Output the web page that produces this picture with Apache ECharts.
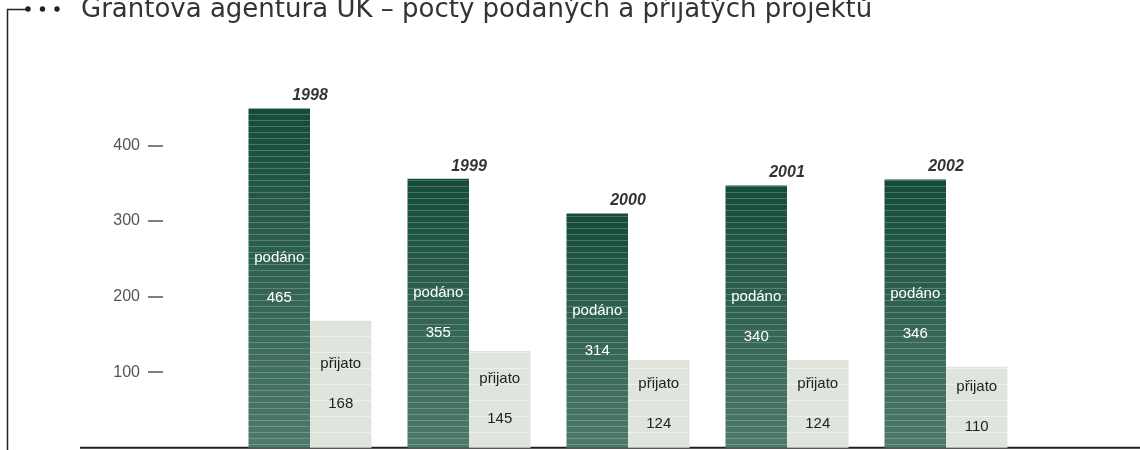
<!DOCTYPE html>
<html>
<head>
<meta charset="utf-8">
<script src="https://cdn.jsdelivr.net/npm/echarts@6/dist/echarts.min.js"></script>
<style>html,body{margin:0;padding:0;background:#fff}#c{width:1140px;height:450px}</style>
</head>
<body>
<div id="c"></div>
<script>
// Data
const titleText = 'Grantová agentura UK – počty podaných a přijatých projektů';
const years = ['1998', '1999', '2000', '2001', '2002'];
// bar heights as drawn in the picture
const podano = [449, 356, 310, 347, 355];
const prijato = [168, 128, 116, 116, 107];
// numbers printed inside the bars
const podanoLabels = ['465', '355', '314', '340', '346'];
const prijatoLabels = ['168', '145', '124', '124', '110'];
const yTicks = [100, 200, 300, 400];

const chart = echarts.init(document.getElementById('c'), null, {renderer: 'canvas'});
chart.setOption({
  animation: false,
  aria: {enabled: true, decal: {show: true}},
  grid: {left: 230.5, right: 114.5, top: 70, bottom: 2.3},
  xAxis: {
    type: 'category', data: years,
    axisLine: {show: false}, axisTick: {show: false}, axisLabel: {show: false}
  },
  yAxis: {
    type: 'value', min: 0, max: 500, interval: 100, offset: 67.5,
    splitLine: {show: false},
    axisLine: {show: false},
    axisTick: {show: true, length: 15, customValues: yTicks, lineStyle: {color: '#555', width: 1.5}},
    axisLabel: {
      margin: 23, color: '#555', fontSize: 16, fontFamily: 'Liberation Sans',
      customValues: yTicks,
      formatter: v => yTicks.indexOf(v) >= 0 ? String(v) : ''
    }
  },
  series: [
    {
      type: 'bar', name: 'podáno', data: podano, barWidth: 61.5, barGap: '0%',
      itemStyle: {
        color: {type: 'linear', x: 0, y: 0, x2: 0, y2: 1,
          colorStops: [{offset: 0, color: '#154b3b'}, {offset: 1, color: '#4d7a6a'}]},
        decal: {symbol: 'rect', symbolSize: 1, dashArrayX: [1, 0], dashArrayY: [1, 5],
          rotation: 0, color: 'rgba(255,255,255,0.22)'}
      },
      label: {
        show: true, position: 'inside', color: '#fff', fontSize: 15, lineHeight: 20,
        fontFamily: 'Liberation Sans',
        formatter: p => 'podáno\n\n' + podanoLabels[p.dataIndex]
      }
    },
    {
      type: 'bar', name: 'přijato', data: prijato, barWidth: 61.5, barGap: '0%',
      itemStyle: {
        color: '#dfe5dc',
        decal: {symbol: 'rect', symbolSize: 1, dashArrayX: [1, 0], dashArrayY: [1, 15],
          rotation: 0, color: 'rgba(255,255,255,0.45)'}
      },
      label: {
        show: true, position: 'inside', color: '#222', fontSize: 15, lineHeight: 20,
        fontFamily: 'Liberation Sans',
        formatter: p => 'přijato\n\n' + prijatoLabels[p.dataIndex]
      }
    },
    {
      type: 'scatter', data: podano, symbolSize: 1, silent: true,
      itemStyle: {color: 'rgba(0,0,0,0)', decal: {symbol: 'none', color: 'rgba(0,0,0,0)'}},
      label: {
        show: true, position: 'top', distance: 4, color: '#000', fontSize: 16,
        fontStyle: 'italic', fontWeight: 'bold', fontFamily: 'Liberation Sans',
        formatter: p => years[p.dataIndex]
      }
    }
  ],
  graphic: [
    {type: 'polyline', shape: {points: [[7.5, 450], [7.5, 9.5], [28, 9.5]]},
      style: {stroke: '#222', lineWidth: 1.5, fill: null}, silent: true},
    {type: 'circle', shape: {cx: 28, cy: 9, r: 2.7}, style: {fill: '#222'}, silent: true},
    {type: 'circle', shape: {cx: 42.5, cy: 9, r: 2.7}, style: {fill: '#222'}, silent: true},
    {type: 'circle', shape: {cx: 57, cy: 9, r: 2.7}, style: {fill: '#222'}, silent: true},
    {type: 'line', shape: {x1: 80, y1: 447.7, x2: 1140, y2: 447.7},
      style: {stroke: '#222', lineWidth: 2}, silent: true},
    {type: 'text', x: 81, y: 10.5, silent: true,
      style: {text: titleText, fill: '#333', font: '26px "DejaVu Sans"', verticalAlign: 'middle', align: 'left'}}
  ]
});
</script>
</body>
</html>
